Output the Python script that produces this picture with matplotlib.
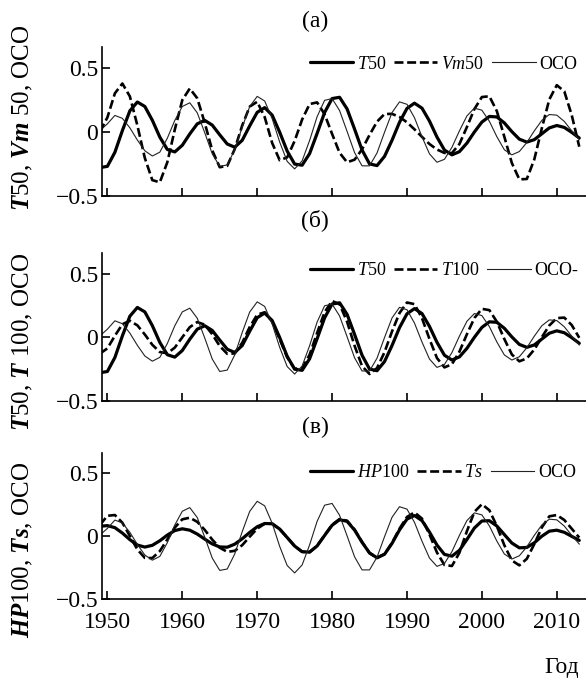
import matplotlib
matplotlib.use("Agg")
import matplotlib.pyplot as plt
from matplotlib.ticker import FixedLocator, FixedFormatter

plt.rcParams["font.family"] = ["Liberation Serif", "DejaVu Serif"]
plt.rcParams["mathtext.fontset"] = "custom"
plt.rcParams["mathtext.rm"] = "Liberation Serif"
plt.rcParams["mathtext.it"] = "Liberation Serif:italic"
plt.rcParams["mathtext.bf"] = "Liberation Serif:bold"
plt.rcParams["mathtext.bfit"] = "Liberation Serif:bold:italic"

years = list(range(1949, 2014))

oco = [0.010, 0.063, 0.129, 0.106, 0.032, -0.064, -0.148, -0.189, -0.159, -0.050,
       0.090, 0.199, 0.228, 0.149, -0.007, -0.172, -0.270, -0.259, -0.140, 0.037,
       0.198, 0.278, 0.242, 0.104, -0.079, -0.231, -0.290, -0.227, -0.067, 0.119,
       0.247, 0.261, 0.167, 0.004, -0.162, -0.266, -0.266, -0.165, -0.003, 0.151,
       0.235, 0.216, 0.111, -0.038, -0.172, -0.238, -0.215, -0.121, 0.008, 0.125,
       0.186, 0.170, 0.083, -0.038, -0.140, -0.180, -0.154, -0.083, 0.008, 0.090,
       0.136, 0.131, 0.082, 0.008, -0.061]

t50 = [-0.280, -0.270, -0.160, 0.010, 0.165, 0.234, 0.199, 0.091, -0.041, -0.138,
       -0.157, -0.105, -0.016, 0.063, 0.090, 0.053, -0.023, -0.095, -0.120, -0.066,
       0.047, 0.153, 0.190, 0.131, -0.002, -0.150, -0.252, -0.261, -0.170, -0.012,
       0.152, 0.261, 0.271, 0.180, 0.022, -0.142, -0.251, -0.264, -0.192, -0.066,
       0.075, 0.184, 0.225, 0.186, 0.085, -0.040, -0.142, -0.180, -0.155, -0.088,
       -0.001, 0.077, 0.121, 0.117, 0.070, 0.002, -0.057, -0.080, -0.061, -0.015,
       0.031, 0.050, 0.035, -0.004, -0.048]

vm50 = [0.001, 0.113, 0.302, 0.379, 0.278, 0.051, -0.205, -0.378, -0.395, -0.238,
        0.018, 0.249, 0.340, 0.263, 0.070, -0.145, -0.277, -0.266, -0.135, 0.050,
        0.198, 0.236, 0.116, -0.087, -0.222, -0.200, -0.071, 0.097, 0.218, 0.231,
        0.138, -0.016, -0.164, -0.238, -0.218, -0.137, -0.024, 0.080, 0.140, 0.141,
        0.117, 0.075, 0.020, -0.039, -0.095, -0.138, -0.165, -0.166, -0.095, 0.038,
        0.179, 0.273, 0.279, 0.162, -0.039, -0.244, -0.372, -0.369, -0.215, 0.028,
        0.254, 0.366, 0.318, 0.130, -0.116]

t100 = [-0.130, -0.088, 0.011, 0.102, 0.129, 0.093, 0.021, -0.060, -0.117, -0.127,
        -0.082, -0.001, 0.079, 0.119, 0.098, 0.023, -0.070, -0.131, -0.128, -0.044,
        0.080, 0.177, 0.196, 0.122, -0.015, -0.158, -0.248, -0.245, -0.138, 0.033,
        0.197, 0.285, 0.259, 0.122, -0.067, -0.228, -0.290, -0.243, -0.118, 0.045,
        0.190, 0.273, 0.260, 0.150, -0.014, -0.164, -0.238, -0.213, -0.114, 0.023,
        0.151, 0.223, 0.213, 0.121, -0.015, -0.136, -0.190, -0.167, -0.097, 0.000,
        0.092, 0.150, 0.154, 0.095, -0.005]

hp100 = [0.080, 0.085, 0.069, 0.026, -0.026, -0.069, -0.085, -0.071, -0.035, 0.010,
         0.046, 0.060, 0.049, 0.018, -0.022, -0.060, -0.084, -0.086, -0.062, -0.019,
         0.031, 0.076, 0.102, 0.100, 0.058, -0.009, -0.077, -0.122, -0.125, -0.076,
         0.007, 0.088, 0.132, 0.119, 0.050, -0.047, -0.132, -0.170, -0.142, -0.056,
         0.051, 0.137, 0.165, 0.125, 0.034, -0.069, -0.143, -0.157, -0.111, -0.025,
         0.066, 0.122, 0.124, 0.082, 0.014, -0.053, -0.091, -0.088, -0.051, 0.001,
         0.041, 0.049, 0.032, 0.000, -0.032]

ts = [0.090, 0.163, 0.169, 0.108, 0.003, -0.104, -0.171, -0.172, -0.117, -0.025,
      0.070, 0.135, 0.148, 0.115, 0.051, -0.026, -0.090, -0.123, -0.115, -0.070,
      -0.003, 0.061, 0.100, 0.100, 0.058, -0.009, -0.077, -0.122, -0.125, -0.075,
      0.009, 0.092, 0.137, 0.124, 0.054, -0.045, -0.132, -0.170, -0.141, -0.052,
      0.061, 0.154, 0.190, 0.141, 0.016, -0.128, -0.227, -0.235, -0.130, 0.041,
      0.194, 0.255, 0.207, 0.081, -0.071, -0.191, -0.230, -0.178, -0.061, 0.070,
      0.159, 0.169, 0.130, 0.060, -0.010]

panels = [
    ("(а)", r"$\mathbfit{T}$50, $\mathbfit{Vm}$ 50, OCO",
     [(t50, r"$\mathit{T}$50"), (vm50, r"$\mathit{Vm}$50"), (oco, "OCO")]),
    ("(б)", r"$\mathbfit{T}$50, $\mathbfit{T}$ 100, OCO",
     [(t50, r"$\mathit{T}$50"), (t100, r"$\mathit{T}$100"), (oco, "OCO-")]),
    ("(в)", r"$\mathbfit{HP}$100, $\mathbfit{Ts}$, OCO",
     [(hp100, r"$\mathit{HP}$100"), (ts, r"$\mathit{Ts}$"), (oco, "OCO")]),
]

xticks = [1950, 1960, 1970, 1980, 1990, 2000, 2010]
yticks = [-0.5, 0, 0.5]
ytick_labels = ["\u22120.5", "0", "0.5"]

fig = plt.figure(figsize=(5.86, 6.78), dpi=100)
W, H = 586, 678

axes_top_px = [47, 252.7, 452.5]
axes_bot_px = [195.7, 400.7, 599.4]
title_y_px = [21, 220, 427]
ylabel_y_px = [118, 342, 550]
legend_y = [0.884, 0.878, 0.864]

for i, (title, ylab, series) in enumerate(panels):
    bottom = 1 - axes_bot_px[i] / H
    height = (axes_bot_px[i] - axes_top_px[i]) / H
    ax = fig.add_axes([102.3 / W, bottom, 1 - 102.3 / W, height])

    styles = [
        dict(color="black", lw=2.3, solid_capstyle="round"),
        dict(color="black", lw=1.9, dashes=(3.4, 1.4)),
        dict(color="#222222", lw=0.8),
    ]
    for (vals, lab), st in zip(series, styles):
        ax.plot(years, vals, label=lab, **st)

    ax.set_xlim(1949.32, 2013.9)
    ax.set_ylim(-0.5, 0.665)
    for s in ("top", "right"):
        ax.spines[s].set_visible(False)
    for s in ("left", "bottom"):
        ax.spines[s].set_linewidth(1.2)

    ax.xaxis.set_major_locator(FixedLocator(xticks))
    ax.yaxis.set_major_locator(FixedLocator(yticks))
    ax.yaxis.set_major_formatter(FixedFormatter(ytick_labels))
    ax.tick_params(direction="in", length=6, width=1.2, labelsize=17)
    ax.tick_params(axis="y", pad=3)
    ax.tick_params(axis="x", pad=9)
    if i < 2:
        ax.tick_params(axis="x", labelbottom=False)

    ax.legend(loc="center left", bbox_to_anchor=(0.429, legend_y[i]),
              ncol=3, frameon=False, fontsize=13, handlelength=2.4,
              handletextpad=0.2, columnspacing=0.45, borderpad=0,
              borderaxespad=0)

    fig.text(315 / W, 1 - title_y_px[i] / H, title, fontsize=17,
             ha="center", va="center")
    fig.text(23 / W, 1 - ylabel_y_px[i] / H, ylab, fontsize=18,
             rotation=90, ha="center", va="center")

fig.text(562 / W, 1 - 667 / H, "Год", fontsize=17, ha="center", va="center")

fig.savefig("out.png", dpi=100)
